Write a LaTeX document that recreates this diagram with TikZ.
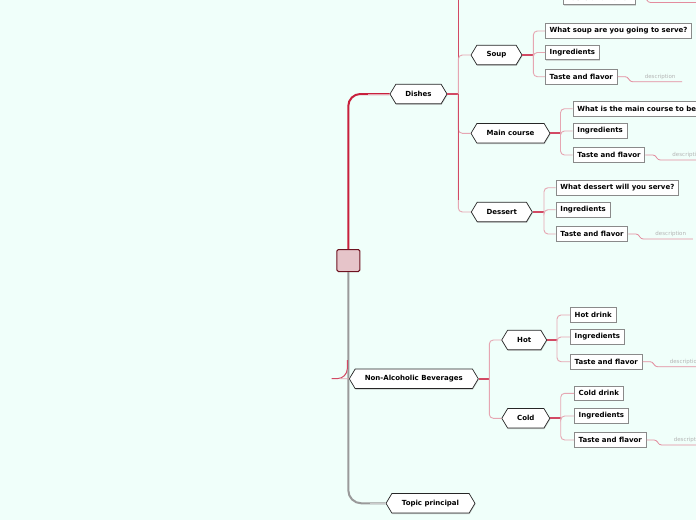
\documentclass[tikz,border=0pt]{standalone}
\usepackage{fontspec}
\setmainfont{DejaVu Sans}
\usetikzlibrary{shapes.symbols,shadows,calc}
\definecolor{bg}{HTML}{F0FFFA}
\definecolor{mainred}{HTML}{C8203C}
\definecolor{pinkln}{HTML}{E6A6B2}
\definecolor{stubred}{HTML}{D24A64}
\definecolor{boxgray}{HTML}{8A8A8A}
\definecolor{desctext}{HTML}{B4B4B4}
\definecolor{descline}{HTML}{E38C9E}
\definecolor{centerfill}{HTML}{E6C4C9}
\definecolor{centerdraw}{HTML}{6E1220}
\definecolor{trunkgray}{HTML}{9A9A9A}
\newcommand\descr[1]{%
  \draw[descline, line width=0.8pt, rounded corners=2.5pt] (#1.east) -- ++(10,0) -- ++(2.5,5) -- ++(52,0);
  \node[desctxt, anchor=west] (d#1) at ($(#1.east)+(27,0)$) {description};}
\begin{document}
\begin{tikzpicture}[x=1pt,y=-1pt,
  hexn/.style={signal, signal to=west and east, signal pointer angle=118,
    draw=black!85, fill=white, line width=0.7pt, minimum height=19.5pt, inner sep=0pt,
    font=\fontsize{7}{8}\selectfont\bfseries,
    drop shadow={shadow xshift=0.5pt, shadow yshift=-1pt, fill=black!40, opacity=0.5}},
  leaf/.style={draw=boxgray, fill=white, line width=0.8pt, minimum height=14.5pt,
    inner xsep=4.3pt, inner ysep=0pt, anchor=west,
    font=\fontsize{7}{8}\selectfont\bfseries,
    drop shadow={shadow xshift=0.5pt, shadow yshift=-0.8pt, fill=black!30, opacity=0.5}},
  desctxt/.style={text=desctext, font=\fontsize{5.5}{6}\selectfont, inner sep=0pt},
  stub/.style={stubred, line width=1.8pt},
  branch/.style={pinkln, line width=0.9pt, rounded corners=4pt},
]
\useasboundingbox (0,0) rectangle (696,520);
\fill[bg] (0,0) rectangle (696,520);
\clip (0,0) rectangle (696,520);

% central topic
\node[draw=centerdraw, fill=centerfill, line width=1pt, rounded corners=1.5pt,
  minimum width=23pt, minimum height=22pt, inner sep=0pt] (root) at (348.3,260.5) {};

% level 1 nodes
\node[hexn, minimum width=57pt] (dishes) at (418.5,94) {Dishes};
\node[hexn, minimum width=129pt] (nab) at (413.8,378.8) {Non-Alcoholic Beverages};
\node[hexn, minimum width=89pt] (topic) at (430.5,503.3) {Topic principal};

% trunk lines
\draw[mainred, line width=2pt, rounded corners=12pt] (root.north) |- (dishes.west);
\draw[pinkln, line width=1pt] (368,94) -- (dishes.west);
\draw[trunkgray, line width=2pt, rounded corners=13pt] (root.south) |- (topic.west);
\draw[black!20, line width=1pt] (370,503.3) -- (topic.west);
\coordinate (nabl) at (331.5,378.6);
\draw[stubred, line width=1pt, rounded corners=10pt] (nabl) -| (347.3,360);
\draw[pinkln, line width=0.8pt] (340,378.6) -- (nab.west);

% Dishes subtree
\node[hexn, minimum width=51pt] (soup) at (496.5,55) {Soup};
\node[hexn, minimum width=79pt] (main) at (510.5,133.3) {Main course};
\node[hexn, minimum width=61pt] (dessert) at (501.8,212) {Dessert};
\coordinate (dsp) at (458.3,94);
\draw[stub] (dishes.east) -- (dsp);
\draw[stubred, line width=1pt] (dsp) -- (458.3,-5);
\draw[branch] (dsp) |- (soup.west);
\draw[branch] (dsp) |- (main.west);
\draw[branch] (dsp) |- (dessert.west);
\draw[stubred, line width=1pt] (dsp) -- (458.3,200);

% top partial box
\node[leaf] (tfa) at (563,-2.5) {Taste and flavor};
\descr{tfa}

% Soup
\node[leaf] (s1) at (545,31) {What soup are you going to serve?};
\node[leaf] (s2) at (545,52.5) {Ingredients};
\node[leaf] (s3) at (545,76.7) {Taste and flavor};
\coordinate (ssp) at (533.3,55);
\draw[stub] (soup.east) -- (ssp);
\foreach \c in {s1,s2,s3} \draw[branch] (ssp) |- (\c.west);
\descr{s3}

% Main course
\node[leaf] (m1) at (572.7,108.7) {What is the main course to be served?};
\node[leaf] (m2) at (572.7,131) {Ingredients};
\node[leaf] (m3) at (572.7,155) {Taste and flavor};
\coordinate (msp) at (560.5,133.3);
\draw[stub] (main.east) -- (msp);
\foreach \c in {m1,m2,m3} \draw[branch] (msp) |- (\c.west);
\descr{m3}

% Dessert
\node[leaf] (e1) at (555.7,187.7) {What dessert will you serve?};
\node[leaf] (e2) at (555.7,209.7) {Ingredients};
\node[leaf] (e3) at (555.7,234) {Taste and flavor};
\coordinate (esp) at (544,212);
\draw[stub] (dessert.east) -- (esp);
\foreach \c in {e1,e2,e3} \draw[branch] (esp) |- (\c.west);
\descr{e3}

% Non-alcoholic beverages subtree
\node[hexn, minimum width=45pt] (hot) at (524.2,340) {Hot};
\node[hexn, minimum width=48pt] (cold) at (525.8,418.3) {Cold};
\coordinate (nsp) at (489.3,378.8);
\draw[stub] (nab.east) -- (nsp);
\draw[branch] (nsp) |- (hot.west);
\draw[branch] (nsp) |- (cold.west);

\node[leaf] (h1) at (570,315) {Hot drink};
\node[leaf] (h2) at (570,337) {Ingredients};
\node[leaf] (h3) at (570,361.7) {Taste and flavor};
\coordinate (hsp) at (557,340);
\draw[stub] (hot.east) -- (hsp);
\foreach \c in {h1,h2,h3} \draw[branch] (hsp) |- (\c.west);
\descr{h3}

\node[leaf] (c1) at (574,393.3) {Cold drink};
\node[leaf] (c2) at (574,416) {Ingredients};
\node[leaf] (c3) at (574,440) {Taste and flavor};
\coordinate (csp) at (560.7,418.3);
\draw[stub] (cold.east) -- (csp);
\foreach \c in {c1,c2,c3} \draw[branch] (csp) |- (\c.west);
\descr{c3}
\end{tikzpicture}
\end{document}
